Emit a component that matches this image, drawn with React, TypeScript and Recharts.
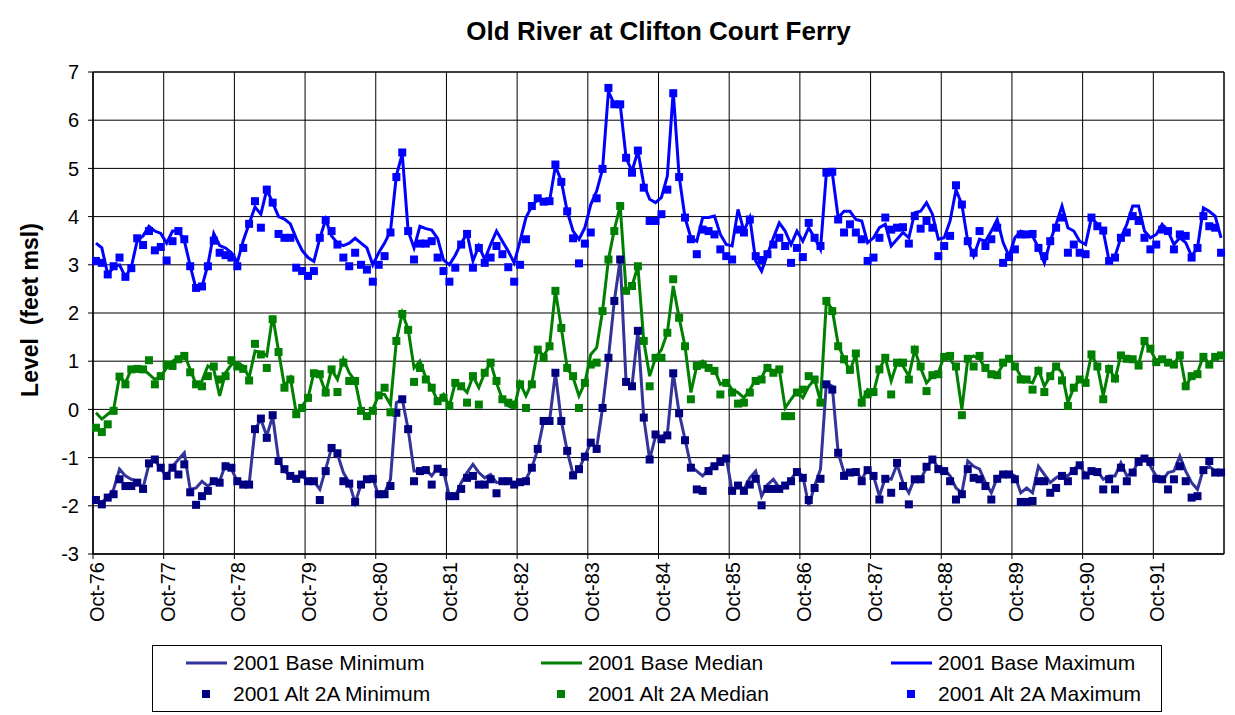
import { ComposedChart, Line, Scatter, XAxis, YAxis, CartesianGrid, ReferenceArea } from 'recharts';

// monthly values, Oct-76 .. Sep-92, one row per water year
const baseMax = [
  3.45, 3.35, 2.8, 2.95, 3.0, 2.75, 2.95, 3.5, 3.6, 3.8, 3.7, 3.65,
  3.45, 3.7, 3.7, 3.5, 2.98, 2.5, 2.55, 3.0, 3.65, 3.4, 3.35, 3.25,
  3.05, 3.5, 3.85, 4.2, 4.05, 4.56, 4.29, 4.0, 3.95, 3.85, 3.55, 3.3,
  3.15, 3.07, 3.55, 3.94, 3.6, 3.45, 3.4, 3.45, 3.55, 3.45, 3.35, 3.0,
  3.25, 3.45, 3.7, 4.85, 5.3, 3.7, 3.35, 3.8, 3.75, 3.72, 3.55, 3.1,
  3.0, 3.2, 3.45, 3.65, 3.08, 3.39, 3.11, 3.42, 3.7, 3.49, 3.28, 3.04,
  3.49, 3.98, 4.22, 4.36, 4.32, 4.32, 5.05, 4.74, 4.11, 3.7, 3.53, 3.77,
  4.25, 4.53, 4.98, 6.6, 6.33, 6.33, 5.22, 4.94, 5.36, 4.67, 4.36, 4.29,
  4.4, 4.84, 6.6, 4.84, 3.98, 3.56, 3.49, 3.98, 3.98, 4.01, 3.63, 3.42,
  3.39, 4.15, 3.7, 3.98, 3.08, 2.87, 3.22, 3.56, 3.87, 3.7, 3.42, 3.7,
  3.49, 3.77, 3.56, 3.32, 4.91, 4.91, 3.98, 4.11, 4.11, 3.94, 3.91, 3.46,
  3.56, 3.77, 3.84, 3.39, 3.53, 3.67, 3.56, 4.08, 4.11, 4.29, 4.05, 3.53,
  3.56, 3.91, 4.56, 4.25, 3.49, 3.18, 3.53, 3.49, 3.7, 3.94, 3.46, 3.18,
  3.56, 3.7, 3.63, 3.6, 3.35, 3.04, 3.49, 3.84, 4.22, 3.77, 3.7, 3.49,
  3.42, 3.98, 3.84, 3.7, 3.08, 3.18, 3.56, 3.84, 4.22, 4.22, 3.7, 3.56,
  3.63, 3.84, 3.7, 3.42, 3.56, 3.46, 3.18, 3.35, 4.18, 4.11, 4.01, 3.56,
];

const altMax = [
  3.08, 3.04, 2.8, 2.97, 3.15, 2.75, 2.93, 3.55, 3.41, 3.7, 3.3, 3.37,
  3.09, 3.49, 3.7, 3.53, 2.97, 2.52, 2.55, 2.97, 3.5, 3.25, 3.2, 3.15,
  2.97, 3.35, 3.85, 4.32, 3.77, 4.56, 4.29, 3.64, 3.56, 3.56, 2.94, 2.87,
  2.77, 2.87, 3.56, 3.93, 3.7, 3.42, 3.15, 2.97, 3.25, 3.0, 2.9, 2.65,
  3.0, 3.18, 3.67, 4.82, 5.33, 3.7, 3.11, 3.44, 3.44, 3.49, 3.15, 2.87,
  2.65, 2.94, 3.42, 3.64, 2.94, 3.35, 3.04, 3.15, 3.39, 3.22, 2.95, 2.65,
  3.0, 3.53, 4.22, 4.38, 4.31, 4.32, 5.08, 4.72, 4.11, 3.55, 3.03, 3.44,
  3.67, 4.38, 4.99, 6.67, 6.33, 6.33, 5.22, 4.91, 5.37, 4.6, 3.91, 3.91,
  4.05, 4.56, 6.56, 4.82, 3.98, 3.53, 3.22, 3.73, 3.7, 3.63, 3.32, 3.18,
  3.11, 3.73, 3.67, 3.94, 3.18, 3.1, 3.22, 3.42, 3.56, 3.39, 3.04, 3.35,
  3.16, 3.87, 3.56, 3.39, 4.91, 4.93, 3.94, 3.67, 3.84, 3.67, 3.53, 3.08,
  3.15, 3.56, 3.98, 3.73, 3.77, 3.78, 3.44, 4.01, 3.75, 3.91, 3.77, 3.18,
  3.39, 3.6, 4.65, 4.25, 3.49, 3.25, 3.7, 3.39, 3.53, 3.77, 3.04, 3.16,
  3.32, 3.63, 3.63, 3.64, 3.35, 3.18, 3.49, 3.77, 3.98, 3.25, 3.42, 3.25,
  3.22, 3.98, 3.8, 3.71, 3.08, 3.15, 3.56, 3.67, 4.01, 3.91, 3.56, 3.32,
  3.42, 3.73, 3.7, 3.32, 3.63, 3.6, 3.15, 3.35, 4.01, 3.8, 3.77, 3.25,
];

const baseMedian = [
  -0.07, -0.2, -0.1, 0.0, 0.69, 0.55, 0.83, 0.86, 0.84, 0.73, 0.62, 0.69,
  0.86, 1.0, 1.07, 1.14, 0.83, 0.52, 0.59, 0.9, 0.83, 0.28, 0.76, 0.93,
  0.97, 0.9, 0.66, 1.21, 1.18, 1.11, 1.94, 1.21, 0.48, 0.66, -0.07, 0.07,
  0.24, 0.76, 0.69, 0.35, 0.83, 0.62, 1.04, 0.76, 0.59, 0.0, -0.14, 0.0,
  0.31, 0.31, 0.1, 1.42, 2.0, 1.66, 0.86, 1.0, 0.66, 0.45, 0.17, 0.31,
  0.07, 0.55, 0.48, 0.35, 0.69, 0.45, 0.76, 0.97, 0.55, 0.21, 0.07, 0.03,
  0.55, 0.28, 0.55, 1.24, 1.11, 1.31, 2.46, 1.69, 0.86, 0.66, 0.28, 0.55,
  1.14, 1.28, 2.04, 3.11, 3.73, 4.22, 2.46, 2.56, 2.97, 1.42, 0.69, 1.07,
  1.24, 1.59, 2.56, 1.9, 1.31, 0.35, 0.9, 1.0, 0.86, 0.83, 0.52, 0.59,
  0.41, 0.35, 0.24, 0.41, 0.62, 0.66, 0.9, 0.76, 0.83, 0.03, 0.21, 0.38,
  0.24, 0.48, 0.62, 0.17, 2.25, 2.07, 1.35, 1.04, 0.8, 1.14, 0.14, 0.41,
  0.35, 0.83, 1.07, 0.59, 0.97, 0.9, 0.69, 1.24, 0.86, 0.55, 0.69, 0.76,
  1.11, 1.04, 0.86, 0.0, 1.04, 1.11, 1.04, 0.86, 0.73, 0.73, 0.93, 1.07,
  0.9, 0.69, 0.59, 0.55, 0.83, 0.48, 0.69, 0.9, 0.76, 0.14, 0.45, 0.62,
  0.55, 1.14, 0.9, 0.28, 0.86, 0.62, 1.14, 1.07, 1.07, 0.93, 1.42, 1.24,
  1.0, 1.04, 0.97, 0.93, 1.14, 0.48, 0.69, 0.76, 1.11, 0.93, 1.11, 1.12,
];

const altMedian = [
  -0.38, -0.47, -0.31, -0.03, 0.68, 0.52, 0.83, 0.84, 0.83, 1.02, 0.52, 0.69,
  0.93, 0.9, 1.04, 1.11, 0.77, 0.52, 0.48, 0.69, 0.89, 0.62, 0.69, 1.02,
  0.89, 0.84, 0.6, 1.36, 1.14, 0.86, 1.87, 1.19, 0.45, 0.62, -0.1, 0.03,
  0.24, 0.75, 0.73, 0.35, 0.83, 0.36, 0.97, 0.59, 0.59, -0.03, -0.14, -0.03,
  0.29, 0.45, -0.06, 1.42, 1.98, 1.65, 0.57, 0.86, 0.62, 0.45, 0.17, 0.24,
  0.07, 0.55, 0.48, 0.14, 0.69, 0.1, 0.76, 0.97, 0.59, 0.21, 0.14, 0.1,
  0.52, 0.03, 0.52, 1.24, 1.07, 1.31, 2.46, 1.69, 0.86, 0.69, 0.03, 0.55,
  0.93, 0.97, 2.04, 3.11, 3.7, 4.22, 2.46, 2.56, 2.97, 1.42, 0.48, 1.07,
  1.07, 1.59, 2.7, 1.9, 1.31, 0.21, 0.9, 0.93, 0.86, 0.8, 0.31, 0.55,
  0.35, 0.12, 0.14, 0.35, 0.59, 0.62, 0.86, 0.76, 0.83, -0.14, -0.14, 0.35,
  0.41, 0.69, 0.62, 0.14, 2.25, 2.04, 1.31, 1.04, 0.82, 1.16, 0.14, 0.31,
  0.36, 0.83, 1.07, 0.31, 0.97, 0.97, 0.62, 1.24, 0.89, 0.38, 0.71, 0.73,
  1.09, 1.11, 0.89, -0.12, 1.05, 0.89, 1.11, 0.86, 0.73, 0.71, 0.97, 1.05,
  0.89, 0.62, 0.62, 0.41, 0.8, 0.36, 0.69, 0.89, 0.6, 0.07, 0.45, 0.62,
  0.55, 1.14, 0.89, 0.21, 0.84, 0.64, 1.12, 1.05, 1.04, 0.91, 1.42, 1.26,
  0.98, 1.04, 0.97, 0.93, 1.12, 0.48, 0.69, 0.73, 1.09, 0.93, 1.09, 1.12,
];

const baseMin = [
  -1.9, -1.92, -1.83, -1.66, -1.24, -1.38, -1.45, -1.49, -1.63, -1.14, -1.04, -1.24,
  -1.38, -1.18, -1.04, -0.9, -1.66, -1.63, -1.49, -1.59, -1.49, -1.49, -1.14, -1.24,
  -1.49, -1.52, -1.56, -0.41, -0.21, -0.55, -0.14, -1.04, -1.28, -1.38, -1.42, -1.38,
  -1.49, -1.49, -1.66, -1.24, -0.8, -0.93, -1.31, -1.52, -1.94, -1.56, -1.45, -1.42,
  -1.8, -1.73, -1.45, 0.14, 0.21, -0.41, -1.28, -1.28, -1.24, -1.38, -1.21, -1.28,
  -1.8, -1.8, -1.52, -1.31, -1.14, -1.31, -1.42, -1.35, -1.52, -1.49, -1.49, -1.56,
  -1.49, -1.45, -1.21, -0.83, -0.24, -0.24, 0.76, -0.24, -0.86, -1.35, -1.24, -0.97,
  -0.69, -0.8, 0.03, 1.07, 2.25, 3.11, 0.55, 0.48, 1.63, -0.17, -1.04, -0.55,
  -0.55, -0.52, 0.76, -0.07, -0.62, -1.18, -1.28, -1.38, -1.24, -1.14, -1.11, -1.0,
  -1.7, -1.56, -1.66, -1.42, -1.28, -1.8, -1.56, -1.45, -1.63, -1.56, -1.45, -1.28,
  -1.38, -2.0, -1.59, -1.24, 0.55, 0.48, -0.9, -1.31, -1.31, -1.28, -1.45, -1.24,
  -1.38, -1.8, -1.42, -1.45, -1.14, -1.52, -1.73, -1.42, -1.45, -1.21, -1.04, -1.21,
  -1.24, -1.38, -1.63, -1.73, -1.07, -1.18, -1.24, -1.52, -1.73, -1.42, -1.31, -1.31,
  -1.38, -1.73, -1.63, -1.73, -1.18, -1.35, -1.52, -1.42, -1.35, -1.38, -1.24, -1.14,
  -1.38, -1.28, -1.28, -1.45, -1.38, -1.38, -1.11, -1.38, -1.31, -1.07, -1.0, -1.18,
  -1.38, -1.49, -1.31, -1.28, -0.97, -1.28, -1.52, -1.66, -1.24, -1.18, -1.28, -1.31,
];

const altMin = [
  -1.88, -1.97, -1.83, -1.76, -1.45, -1.59, -1.59, -1.52, -1.65, -1.12, -1.04, -1.21,
  -1.38, -1.21, -1.35, -1.14, -1.72, -1.98, -1.8, -1.69, -1.49, -1.52, -1.18, -1.21,
  -1.49, -1.56, -1.56, -0.41, -0.19, -0.59, -0.12, -1.07, -1.24, -1.38, -1.44, -1.35,
  -1.49, -1.49, -1.88, -1.28, -0.8, -0.91, -1.49, -1.54, -1.92, -1.56, -1.45, -1.44,
  -1.76, -1.76, -1.59, -0.07, 0.21, -0.41, -1.49, -1.28, -1.26, -1.56, -1.23, -1.3,
  -1.8, -1.8, -1.65, -1.42, -1.38, -1.56, -1.56, -1.45, -1.74, -1.49, -1.49, -1.56,
  -1.51, -1.49, -1.21, -0.82, -0.24, -0.24, 0.76, -0.24, -0.86, -1.37, -1.24, -0.98,
  -0.69, -0.82, 0.03, 1.07, 2.25, 3.11, 0.57, 0.48, 1.63, -0.17, -1.04, -0.52,
  -0.62, -0.54, 0.75, -0.08, -0.64, -1.21, -1.66, -1.69, -1.28, -1.18, -1.09, -1.02,
  -1.69, -1.58, -1.69, -1.56, -1.44, -1.99, -1.65, -1.65, -1.65, -1.58, -1.49, -1.3,
  -1.42, -1.88, -1.63, -1.44, 0.52, 0.41, -0.9, -1.38, -1.31, -1.3, -1.49, -1.26,
  -1.38, -1.87, -1.44, -1.73, -1.11, -1.59, -1.97, -1.45, -1.45, -1.19, -1.04, -1.24,
  -1.28, -1.49, -1.87, -1.76, -1.24, -1.42, -1.45, -1.59, -1.87, -1.44, -1.35, -1.35,
  -1.45, -1.92, -1.92, -1.9, -1.49, -1.49, -1.73, -1.63, -1.38, -1.49, -1.28, -1.16,
  -1.37, -1.28, -1.3, -1.66, -1.45, -1.66, -1.21, -1.49, -1.31, -1.09, -1.02, -1.09,
  -1.44, -1.45, -1.66, -1.45, -1.18, -1.49, -1.83, -1.8, -1.26, -1.07, -1.31, -1.31,
];

const yearLabels = [
  'Oct-76', 'Oct-77', 'Oct-78', 'Oct-79', 'Oct-80', 'Oct-81', 'Oct-82', 'Oct-83',
  'Oct-84', 'Oct-85', 'Oct-86', 'Oct-87', 'Oct-88', 'Oct-89', 'Oct-90', 'Oct-91',
];
const yTicks = [-3, -2, -1, 0, 1, 2, 3, 4, 5, 6, 7];

const data = baseMax.map((_, i) => ({
  x: i + 0.5,
  baseMin: baseMin[i],
  baseMedian: baseMedian[i],
  baseMax: baseMax[i],
  altMin: altMin[i],
  altMedian: altMedian[i],
  altMax: altMax[i],
}));

const FONT = 'Arial, "Liberation Sans", sans-serif';

const Square = (props: any) => {
  const { cx, cy, fill } = props;
  if (cx == null || cy == null) return null;
  return <rect x={cx - 4} y={cy - 4} width={8} height={8} fill={fill} />;
};

const MonthTick = (props: any) => {
  const { x, y, payload } = props;
  const label = yearLabels[Math.round(payload.value / 12)];
  return (
    <g transform={`translate(${x + 4},${y})`}>
      <text transform="rotate(-90)" textAnchor="end" dy="0.35em" fontSize={20} fontFamily={FONT} fill="#000">
        {label}
      </text>
    </g>
  );
};

const legendItems = [
  { label: '2001 Base Minimum', color: '#333399', kind: 'line' },
  { label: '2001 Base Median', color: '#008000', kind: 'line' },
  { label: '2001 Base Maximum', color: '#0000FF', kind: 'line' },
  { label: '2001 Alt 2A Minimum', color: '#000080', kind: 'square' },
  { label: '2001 Alt 2A Median', color: '#008000', kind: 'square' },
  { label: '2001 Alt 2A Maximum', color: '#0000FF', kind: 'square' },
];

export default function App() {
  return (
    <div style={{ position: 'absolute', left: 0, top: 0, width: 1235, height: 715, background: '#fff', fontFamily: FONT }}>
      <div style={{ position: 'absolute', left: 93, top: 16, width: 1131, textAlign: 'center', fontSize: 26, fontWeight: 'bold' }}>
        Old River at Clifton Court Ferry
      </div>
      <div
        style={{
          position: 'absolute', left: -120, top: 296, width: 300, height: 28, lineHeight: '28px',
          textAlign: 'center', fontSize: 23, fontWeight: 'bold', whiteSpace: 'pre', transform: 'rotate(-90deg)',
        }}
      >
        {'Level  (feet msl)'}
      </div>

      <ComposedChart width={1235} height={715} data={data} margin={{ top: 72, right: 11, bottom: 0, left: 0 }}>
        <CartesianGrid stroke="#000" strokeWidth={1} />
        <XAxis
          dataKey="x"
          type="number"
          domain={[0, 192]}
          ticks={[0, 12, 24, 36, 48, 60, 72, 84, 96, 108, 120, 132, 144, 156, 168, 180]}
          interval={0}
          height={161}
          tick={<MonthTick />}
          tickSize={5}
          tickMargin={3}
          stroke="#000"
        />
        <YAxis
          type="number"
          domain={[-3, 7]}
          ticks={yTicks}
          interval={0}
          width={93}
          tickSize={5}
          tickMargin={9}
          stroke="#000"
          tick={{ fill: '#000', fontSize: 20, fontFamily: FONT }}
        />
        <ReferenceArea x1={0} x2={192} y1={-3} y2={7} fill="none" stroke="#000" strokeWidth={1} ifOverflow="visible" />
        <Line dataKey="baseMin" stroke="#333399" strokeWidth={3} dot={false} isAnimationActive={false} />
        <Line dataKey="baseMedian" stroke="#008000" strokeWidth={3} dot={false} isAnimationActive={false} />
        <Line dataKey="baseMax" stroke="#0000FF" strokeWidth={3} dot={false} isAnimationActive={false} />
        <Scatter dataKey="altMin" fill="#000080" shape={<Square />} isAnimationActive={false} />
        <Scatter dataKey="altMedian" fill="#008000" shape={<Square />} isAnimationActive={false} />
        <Scatter dataKey="altMax" fill="#0000FF" shape={<Square />} isAnimationActive={false} />
      </ComposedChart>

      <div
        style={{
          position: 'absolute', left: 152, top: 645, width: 1010, height: 67, border: '1px solid #000',
          background: '#fff', boxSizing: 'border-box',
        }}
      >
        {legendItems.map((item, i) => {
          const col = i % 3;
          const row = Math.floor(i / 3);
          const left = [32, 387, 737][col];
          const top = row === 0 ? 3 : 34;
          return (
            <div key={item.label} style={{ position: 'absolute', left, top, height: 28, display: 'flex', alignItems: 'center', fontSize: 21 }}>
              <svg width={44} height={28} style={{ marginRight: 4 }}>
                {item.kind === 'line' ? (
                  <line x1={1} x2={42} y1={14} y2={14} stroke={item.color} strokeWidth={3} />
                ) : (
                  <rect x={17} y={10} width={8} height={8} fill={item.color} />
                )}
              </svg>
              <span>{item.label}</span>
            </div>
          );
        })}
      </div>
    </div>
  );
}
